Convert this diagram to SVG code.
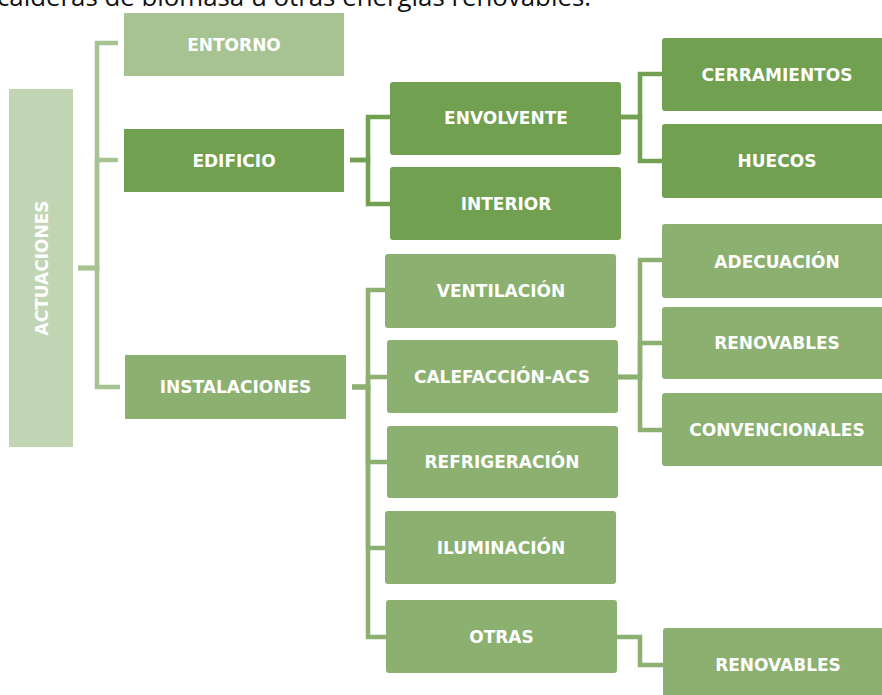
<svg xmlns="http://www.w3.org/2000/svg" width="882" height="695" viewBox="0 0 882 695">
<style>
.t{font-family:"DejaVu Sans","Verdana",sans-serif;font-weight:bold;font-size:17px;fill:#ffffff;text-anchor:middle}
.cap{font-family:"Open Sans","Liberation Sans",sans-serif;font-size:26px;fill:#111111}
.lt{fill:#c1d5b4}
.l1{fill:#a6c391}
.dk{fill:#70a050}
.md{fill:#8bb070}
.c{fill:none;stroke-width:4.5;stroke-linejoin:miter}
.cl{stroke:#a6c391}
.cd{stroke:#70a050}
.cm{stroke:#8bb070}
</style>
<rect width="882" height="695" fill="#ffffff"/>
<text class="cap" x="-3" y="5.5" textLength="594" lengthAdjust="spacingAndGlyphs">calderas de biomasa u otras energías renovables.</text>
<g id="connectors">
<path class="c cl" d="M78,268 H97 V43 H118"/>
<path class="c cl" d="M78,268 H97 V160 H118"/>
<path class="c cl" d="M78,268 H97 V387 H120"/>
<path class="c cd" d="M350,160 H368 V117 H390"/>
<path class="c cd" d="M350,160 H368 V204 H390"/>
<path class="c cd" d="M621,117 H640 V74 H662"/>
<path class="c cd" d="M621,117 H640 V161 H662"/>
<path class="c cm" d="M352,387 H368 V290 H385"/>
<path class="c cm" d="M352,387 H368 V377 H387"/>
<path class="c cm" d="M352,387 H368 V462 H387"/>
<path class="c cm" d="M352,387 H368 V548 H385"/>
<path class="c cm" d="M352,387 H368 V637 H386"/>
<path class="c cm" d="M618,377 H640 V260 H662"/>
<path class="c cm" d="M618,377 H640 V343 H662"/>
<path class="c cm" d="M618,377 H640 V430 H662"/>
<path class="c cm" d="M617,637 H640 V665 H663"/>
</g>
<g id="actuaciones">
<rect class="lt" x="9" y="89" width="64" height="358"/>
<text class="t" transform="translate(47.5,268) rotate(-90)" x="0" y="0">ACTUACIONES</text>
</g>
<g id="entorno">
<rect class="l1" x="124" y="13" width="220" height="63"/>
<text class="t" x="234" y="51">ENTORNO</text>
</g>
<g id="edificio">
<rect class="dk" x="124" y="129" width="220" height="63"/>
<text class="t" x="234" y="166.5">EDIFICIO</text>
</g>
<g id="instalaciones">
<rect class="md" x="125" y="355" width="221" height="64"/>
<text class="t" x="235.5" y="393">INSTALACIONES</text>
</g>
<g id="envolvente">
<rect class="dk" x="390" y="82" width="231" height="73" rx="3"/>
<text class="t" x="506" y="124">ENVOLVENTE</text>
</g>
<g id="interior">
<rect class="dk" x="390" y="167" width="231" height="73" rx="3"/>
<text class="t" x="506" y="210">INTERIOR</text>
</g>
<g id="cerramientos">
<rect class="dk" x="662" y="38" width="231" height="73" rx="3"/>
<text class="t" x="777" y="81">CERRAMIENTOS</text>
</g>
<g id="huecos">
<rect class="dk" x="662" y="124" width="231" height="74" rx="3"/>
<text class="t" x="777" y="167">HUECOS</text>
</g>
<g id="ventilacion">
<rect class="md" x="385" y="254" width="231" height="74" rx="3"/>
<text class="t" x="501" y="297">VENTILACIÓN</text>
</g>
<g id="calefaccion">
<rect class="md" x="387" y="340" width="231" height="73" rx="3"/>
<text class="t" x="502" y="383">CALEFACCIÓN-ACS</text>
</g>
<g id="refrigeracion">
<rect class="md" x="387" y="426" width="231" height="72" rx="3"/>
<text class="t" x="502" y="468">REFRIGERACIÓN</text>
</g>
<g id="iluminacion">
<rect class="md" x="385" y="511" width="231" height="73" rx="3"/>
<text class="t" x="501" y="554">ILUMINACIÓN</text>
</g>
<g id="otras">
<rect class="md" x="386" y="600" width="231" height="73" rx="3"/>
<text class="t" x="501.5" y="643">OTRAS</text>
</g>
<g id="adecuacion">
<rect class="md" x="662" y="224" width="231" height="74" rx="3"/>
<text class="t" x="777" y="267.5">ADECUACIÓN</text>
</g>
<g id="renovables1">
<rect class="md" x="662" y="307" width="231" height="72" rx="3"/>
<text class="t" x="777" y="349">RENOVABLES</text>
</g>
<g id="convencionales">
<rect class="md" x="662" y="393" width="231" height="73" rx="3"/>
<text class="t" x="777" y="436">CONVENCIONALES</text>
</g>
<g id="renovables2">
<rect class="md" x="663" y="628" width="231" height="73" rx="3"/>
<text class="t" x="778" y="670.5">RENOVABLES</text>
</g>
</svg>
